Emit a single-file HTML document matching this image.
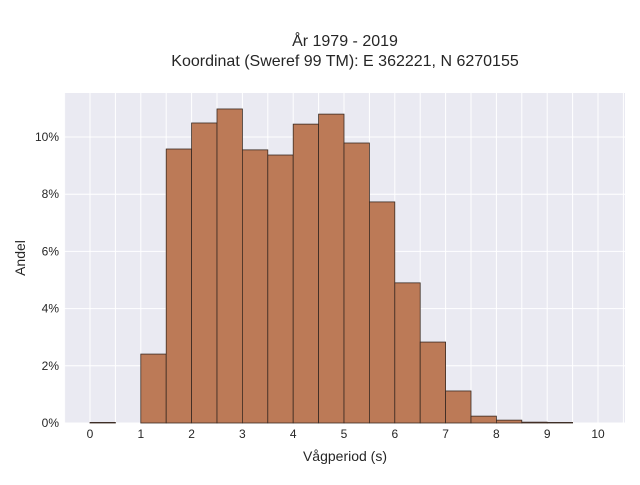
<!DOCTYPE html>
<html><head><meta charset="utf-8"><style>
body{margin:0;background:#fff;}
svg text{font-family:"Liberation Sans",sans-serif;fill:#262626;}
</style></head><body>
<svg id="c" width="640" height="480">
<text x="345" y="46" font-size="16" text-anchor="middle">År 1979 - 2019</text>
<text x="345" y="66" font-size="16" text-anchor="middle">Koordinat (Sweref 99 TM): E 362221, N 6270155</text>
<rect x="64" y="93" width="561" height="330" fill="#eaeaf2"/>
<g id="grid"></g><g id="bars"></g><g id="ticks"></g>
<text x="345" y="461" font-size="14" text-anchor="middle">Vågperiod (s)</text>
<text transform="translate(25,258) rotate(-90)" font-size="14" text-anchor="middle">Andel</text>
</svg>
<script>
const binStarts=[0,0.5,1,1.5,2,2.5,3,3.5,4,4.5,5,5.5,6,6.5,7,7.5,8,8.5,9,9.5];
const shares=[0.02,0,2.41,9.58,10.49,10.98,9.55,9.37,10.45,10.8,9.79,7.73,4.9,2.83,1.12,0.24,0.1,0.03,0.02,0];
const xTicks=[0,1,2,3,4,5,6,7,8,9,10];
const yTicks=[0,2,4,6,8,10];
const binWidth=0.5;
const NS="http://www.w3.org/2000/svg";
const X=v=>90+v*50.8, Y=v=>423-v*28.6;
const grid=document.getElementById('grid'),bars=document.getElementById('bars'),ticks=document.getElementById('ticks');
for(let v=-0.5;v<=10.5;v+=0.5){const x=X(v);if(x<64||x>625)continue;
 const l=document.createElementNS(NS,'line');l.setAttribute('x1',x);l.setAttribute('x2',x);l.setAttribute('y1',93);l.setAttribute('y2',423);l.setAttribute('stroke','#fff');l.setAttribute('stroke-width','1');
 
 grid.appendChild(l);}
yTicks.forEach(v=>{const l=document.createElementNS(NS,'line');l.setAttribute('x1',64);l.setAttribute('x2',625);l.setAttribute('y1',Y(v));l.setAttribute('y2',Y(v));l.setAttribute('stroke','#fff');
 
 grid.appendChild(l);
 const t=document.createElementNS(NS,'text');t.setAttribute('x',59);t.setAttribute('y',Y(v)+4);t.setAttribute('font-size','12');t.setAttribute('text-anchor','end');t.textContent=v+'%';
 
 ticks.appendChild(t);});
xTicks.forEach(v=>{const t=document.createElementNS(NS,'text');t.setAttribute('x',X(v));t.setAttribute('y',438);t.setAttribute('font-size','12');t.setAttribute('text-anchor','middle');t.textContent=v;
 
 ticks.appendChild(t);});
binStarts.forEach((s,i)=>{if(shares[i]<=0)return;const r=document.createElementNS(NS,'rect');
 r.setAttribute('x',X(s));r.setAttribute('width',X(s+binWidth)-X(s));r.setAttribute('y',Y(shares[i]));r.setAttribute('height',Y(0)-Y(shares[i]));
 r.setAttribute('fill','#bc7a57');r.setAttribute('stroke','#3a2a22');r.setAttribute('stroke-width','0.8');
 
 bars.appendChild(r);});
</script>
</body></html>
